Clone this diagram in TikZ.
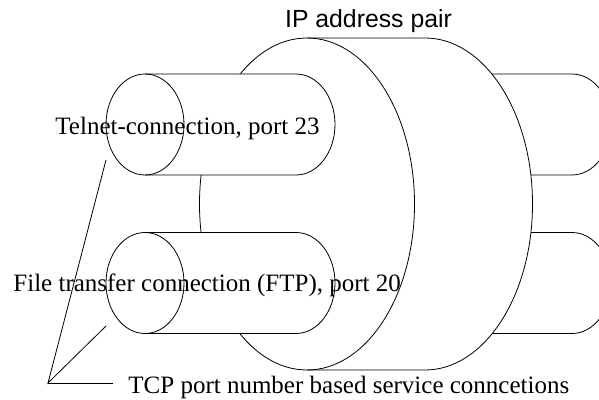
\documentclass[tikz,border=0pt]{standalone}
\usepackage{fontspec}
\setmainfont{Liberation Serif}
\newfontfamily\labelsans{Liberation Sans}
\usetikzlibrary{positioning}

\begin{document}
\begin{tikzpicture}
	[x=1pt,y=1pt,line width=0.8pt,
	every node/.style={inner sep=0pt,font=\fontsize{25}{30}\selectfont},
	pipe/.style={draw,fill=white},
	disk/.style={draw,fill=white},
	callout/.style={draw}]
	\useasboundingbox (0,0) rectangle (599,399);

	% pipes behind the disk
	\foreach \y in {274.5,116} {
		\draw[pipe] (400,\y+50.5) -- (572,\y+50.5)
			arc[start angle=90,end angle=-90,x radius=39,y radius=50.5]
			-- (400,\y-50.5);
	}

	% the disk
	\draw[disk] (307,361) arc[start angle=90,end angle=270,x radius=107.5,y radius=166]
		-- (425,29) arc[start angle=-90,end angle=90,x radius=107.5,y radius=166] -- cycle;
	\draw (307,361) arc[start angle=90,end angle=-90,x radius=107.5,y radius=166];

	% pipes in front of the disk
	\foreach \y in {274.5,116} {
		\draw[pipe] (145,\y+50.5) -- (296,\y+50.5)
			arc[start angle=90,end angle=-90,x radius=39,y radius=50.5]
			-- (145,\y-50.5)
			arc[start angle=270,end angle=90,x radius=39,y radius=50.5] -- cycle;
		\draw (145,\y+50.5) arc[start angle=90,end angle=-90,x radius=39,y radius=50.5];
	}

	\node[anchor=base,font=\labelsans\fontsize{24.8}{30}\selectfont] (ip) at (368.5,371) {IP address pair};
	\node[anchor=base west] (telnet) at (55,264) {Telnet-connection, port 23};
	\node[anchor=base west] (ftp) at (13,108) {File transfer connection (FTP), port 20};
	\node[anchor=base west] (tcp) at (128,6) {TCP port number based service conncetions};

	\coordinate (hub) at (48,16);
	\coordinate (telnetEnd) at (106,239);
	\coordinate (ftpEnd) at (106,73);
	\coordinate (tcpEnd) at (113,16);
	\draw[callout] (telnetEnd) -- (hub) -- (ftpEnd);
	\draw[callout] (hub) -- (tcpEnd);
\end{tikzpicture}
\end{document}
